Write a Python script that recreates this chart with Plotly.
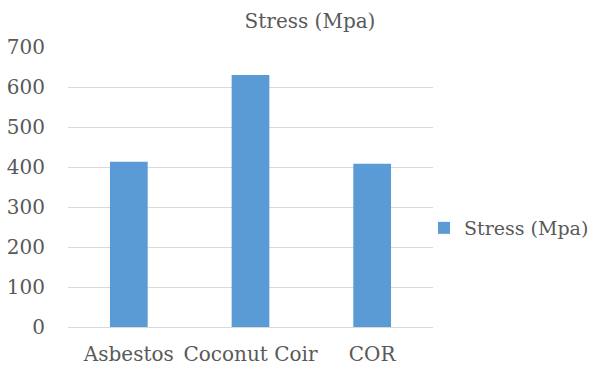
import plotly.graph_objects as go

categories = ["Asbestos", "Coconut Coir", "COR"]
stress_values = [413, 630, 408]
series_name = "Stress (Mpa)"
y_ticks = [0, 100, 200, 300, 400, 500, 600, 700]

font_family = "DejaVu Serif"
text_color = "#595959"
fs = 20

fig = go.Figure()
fig.add_trace(go.Bar(
    x=categories,
    y=stress_values,
    name=series_name,
    marker=dict(color="#5b9bd5", line=dict(width=0)),
    showlegend=True,
))

fig.update_layout(
    width=590, height=369,
    margin=dict(l=68, r=157, t=47, b=42, autoexpand=False),
    paper_bgcolor="white",
    plot_bgcolor="white",
    font=dict(family=font_family, color=text_color, size=fs),
    title=dict(text=series_name, x=310/590, xanchor="center", y=1 - 21/369, yanchor="middle",
               font=dict(size=fs, color=text_color, family=font_family)),
    bargap=0.69,
    showlegend=True,
    legend=dict(xref="container", yref="container", x=424/590, y=1 - 228/369,
                xanchor="left", yanchor="middle",
                font=dict(size=19, color=text_color, family=font_family),
                itemwidth=30, bgcolor="rgba(0,0,0,0)"),
    yaxis=dict(range=[0, 700], tickvals=y_ticks, showgrid=True, gridcolor="#d9d9d9", gridwidth=1,
               zeroline=False, showline=False, ticks="", ticklabelstandoff=22, automargin=False,
               tickfont=dict(size=fs, color=text_color, family=font_family)),
    xaxis=dict(showline=True, linecolor="#d9d9d9", linewidth=1, ticks="", ticklabelstandoff=9,
               automargin=False,
               tickfont=dict(size=fs, color=text_color, family=font_family)),
)

fig.write_html("out.html", config={"displayModeBar": False},
               post_script="document.body.style.margin='0';")
